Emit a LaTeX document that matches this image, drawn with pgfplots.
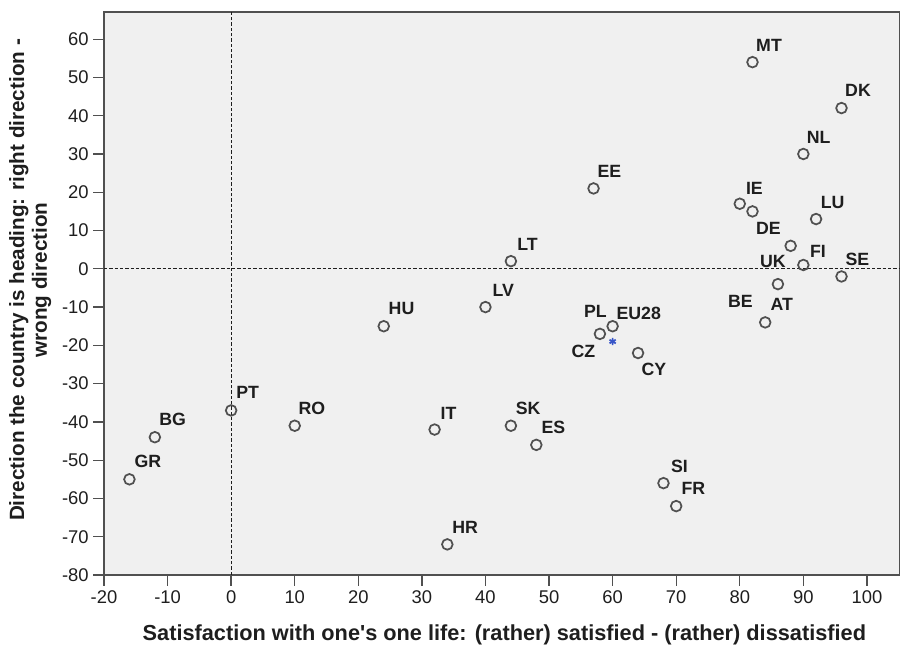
\documentclass[border=0pt]{standalone}
\usepackage{pgfplots}
\pgfplotsset{compat=1.18}
\usepackage{pgfplotstable}
\usepackage{fontspec}
\setmainfont{Liberation Sans}

\definecolor{panel}{RGB}{240,240,240}
\definecolor{frame}{RGB}{80,80,80}
\definecolor{ink}{RGB}{30,30,30}
\definecolor{eublue}{RGB}{55,85,200}

% life satisfaction balance vs. direction balance, EU member states
\pgfplotstableread{
x   y
82  54
96  42
90  30
57  21
80  17
82  15
92  13
44  2
88  6
90  1
96  -2
86  -4
84  -14
40  -10
24  -15
58  -17
60  -15
64  -22
0   -37
10  -41
-12 -44
-16 -55
32  -42
34  -72
44  -41
48  -46
68  -56
70  -62
}\countries

\pgfplotstableread{
x  y
60 -19
}\eutotal

\begin{document}
\begin{tikzpicture}
\begin{axis}[
  name=ax,
  scale only axis,
  width=597pt, height=422.25pt,
  xmin=-20, xmax=105.2, ymin=-80, ymax=67.1,
  xtick={-20,-10,...,100}, ytick={-80,-70,...,60},
  xtick pos=bottom, ytick pos=left,
  tick align=outside,
  major tick length=8pt,
  tick style={frame, line width=1pt},
  axis line style={frame, line width=1.2pt},
  axis background/.style={fill=panel},
  /pgf/number format/assume math mode=true,
  ticklabel style={font=\fontsize{13.8}{14}\selectfont, text=ink},
  xlabel={Satisfaction with one\textquotesingle s one life: (rather) satisfied - (rather) dissatisfied},
  ylabel={Direction the country is heading: right direction -\\wrong direction},
  xlabel style={font=\bfseries\fontsize{16.3}{18}\selectfont, text=ink, inner sep=0pt,
    at={(axis description cs:0.503,-0.117)}, anchor=base},
  ylabel style={font=\bfseries\fontsize{15.5}{17}\selectfont, text=ink, align=center, inner sep=0pt,
    at={(axis description cs:-0.066,0.524)}, anchor=south},
  clip=false,
]
\addplot[ink, dash pattern=on 2.5pt off 1.5pt, line width=0.9pt] coordinates {(0,-80) (0,67.1)};
\addplot[ink, dash pattern=on 2.5pt off 1.5pt, line width=0.9pt] coordinates {(-20,0) (105.2,0)};

\addplot[only marks, mark=o, mark size=4pt, line width=1.3pt, color=frame] table {\countries};
\addplot[only marks, mark=asterisk, mark size=2.7pt, line width=1.3pt, color=eublue] table {\eutotal};

\begin{scope}[every node/.style={font=\bfseries\fontsize{13.3}{13}\selectfont, text=ink, inner sep=0pt}]
\node at (axis cs:84.6,58.5) {MT};
\node at (axis cs:98.6,46.6) {DK};
\node at (axis cs:92.4,34.4) {NL};
\node at (axis cs:59.5,25.4) {EE};
\node at (axis cs:82.3,20.9) {IE};
\node at (axis cs:94.6,17.4) {LU};
\node at (axis cs:84.5,10.6) {DE};
\node at (axis cs:46.6,6.4) {LT};
\node at (axis cs:92.3,4.5) {FI};
\node at (axis cs:85.2,1.9) {UK};
\node at (axis cs:98.5,2.5) {SE};
\node at (axis cs:42.8,-5.7) {LV};
\node at (axis cs:80.1,-8.4) {BE};
\node at (axis cs:86.6,-9.4) {AT};
\node at (axis cs:57.3,-11.1) {PL};
\node at (axis cs:64.1,-11.6) {EU28};
\node at (axis cs:26.8,-10.4) {HU};
\node at (axis cs:55.4,-21.6) {CZ};
\node at (axis cs:66.5,-26.2) {CY};
\node at (axis cs:2.6,-32.3) {PT};
\node at (axis cs:12.7,-36.4) {RO};
\node at (axis cs:-9.2,-39.4) {BG};
\node at (axis cs:-13.1,-50.3) {GR};
\node at (axis cs:34.2,-37.9) {IT};
\node at (axis cs:46.7,-36.4) {SK};
\node at (axis cs:50.7,-41.4) {ES};
\node at (axis cs:70.5,-51.5) {SI};
\node at (axis cs:72.7,-57.3) {FR};
\node at (axis cs:36.8,-67.5) {HR};
\end{scope}
\end{axis}
\pgfresetboundingbox
\path ([xshift=-78pt,yshift=-53.25pt]ax.south west) rectangle ([yshift=9pt]ax.north east);
\end{tikzpicture}
\end{document}
